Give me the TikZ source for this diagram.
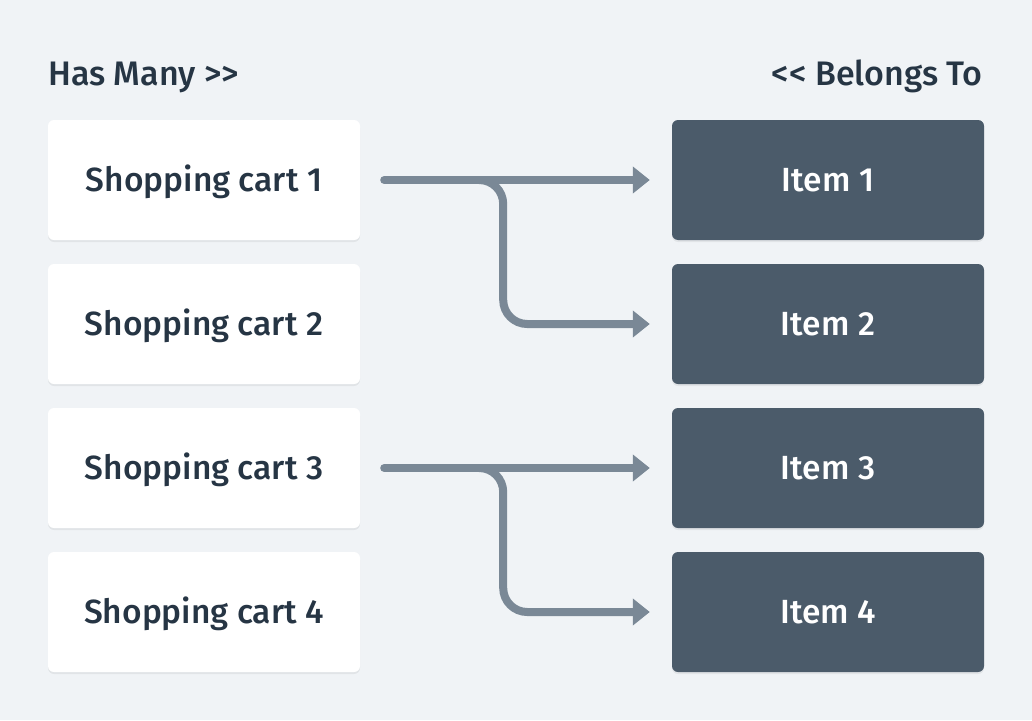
\documentclass[tikz,border=0pt]{standalone}
\usepackage{fontspec}
\setmainfont{Fira Sans}[UprightFont=* Medium]
\usetikzlibrary{arrows.meta,shadows}
\definecolor{bg}{HTML}{F0F3F6}
\definecolor{dark}{HTML}{4B5B6A}
\definecolor{txt}{HTML}{263544}
\definecolor{conncol}{HTML}{7A8896}
\tikzset{
  card/.style={draw=none,fill=white,rounded corners=6pt,minimum width=312pt,minimum height=120pt,inner sep=0pt,text=txt,font=\fontsize{33.5}{40}\selectfont,
    text height=23pt,text depth=0pt,
    drop shadow={shadow xshift=0pt,shadow yshift=-2pt,opacity=0.06,fill=black}},
  item/.style={card,fill=dark,text=white},
  label/.style={text=txt,font=\fontsize{34}{40}\selectfont,inner sep=0pt},
  conn/.style={draw=conncol,line width=8pt,line cap=round,rounded corners=24pt,
    -{Triangle[length=17pt,width=26pt]},shorten <=24pt},
}
\begin{document}
\begin{tikzpicture}[x=1pt,y=-1pt]
\fill[bg] (0,0) rectangle (1032,720);
\useasboundingbox (0,0) rectangle (1032,720);
\node[label,anchor=base west] (hm) at (48,85) {Has Many >{}>};
\node[label,anchor=base east] (bt) at (983,85) {<{}< Belongs To};
\node[card] (c1) at (204,180) {Shopping cart 1};
\node[card] (c2) at (204,324) {Shopping cart 2};
\node[card] (c3) at (204,468) {Shopping cart 3};
\node[card] (c4) at (204,612) {Shopping cart 4};
\node[item] (i1) at (828,180) {Item 1};
\node[item] (i2) at (828,324) {Item 2};
\node[item] (i3) at (828,468) {Item 3};
\node[item] (i4) at (828,612) {Item 4};
\draw[conn,shorten >=22pt] (c1.east) -- (i1.west);
\draw[conn,shorten >=22pt] (c3.east) -- (i3.west);
\draw[conn,shorten >=22pt] ([xshift=100pt]c1.east) -- ([xshift=143pt]c1.east) |- (i2.west);
\draw[conn,shorten >=22pt] ([xshift=100pt]c3.east) -- ([xshift=143pt]c3.east) |- (i4.west);
\end{tikzpicture}
\end{document}
